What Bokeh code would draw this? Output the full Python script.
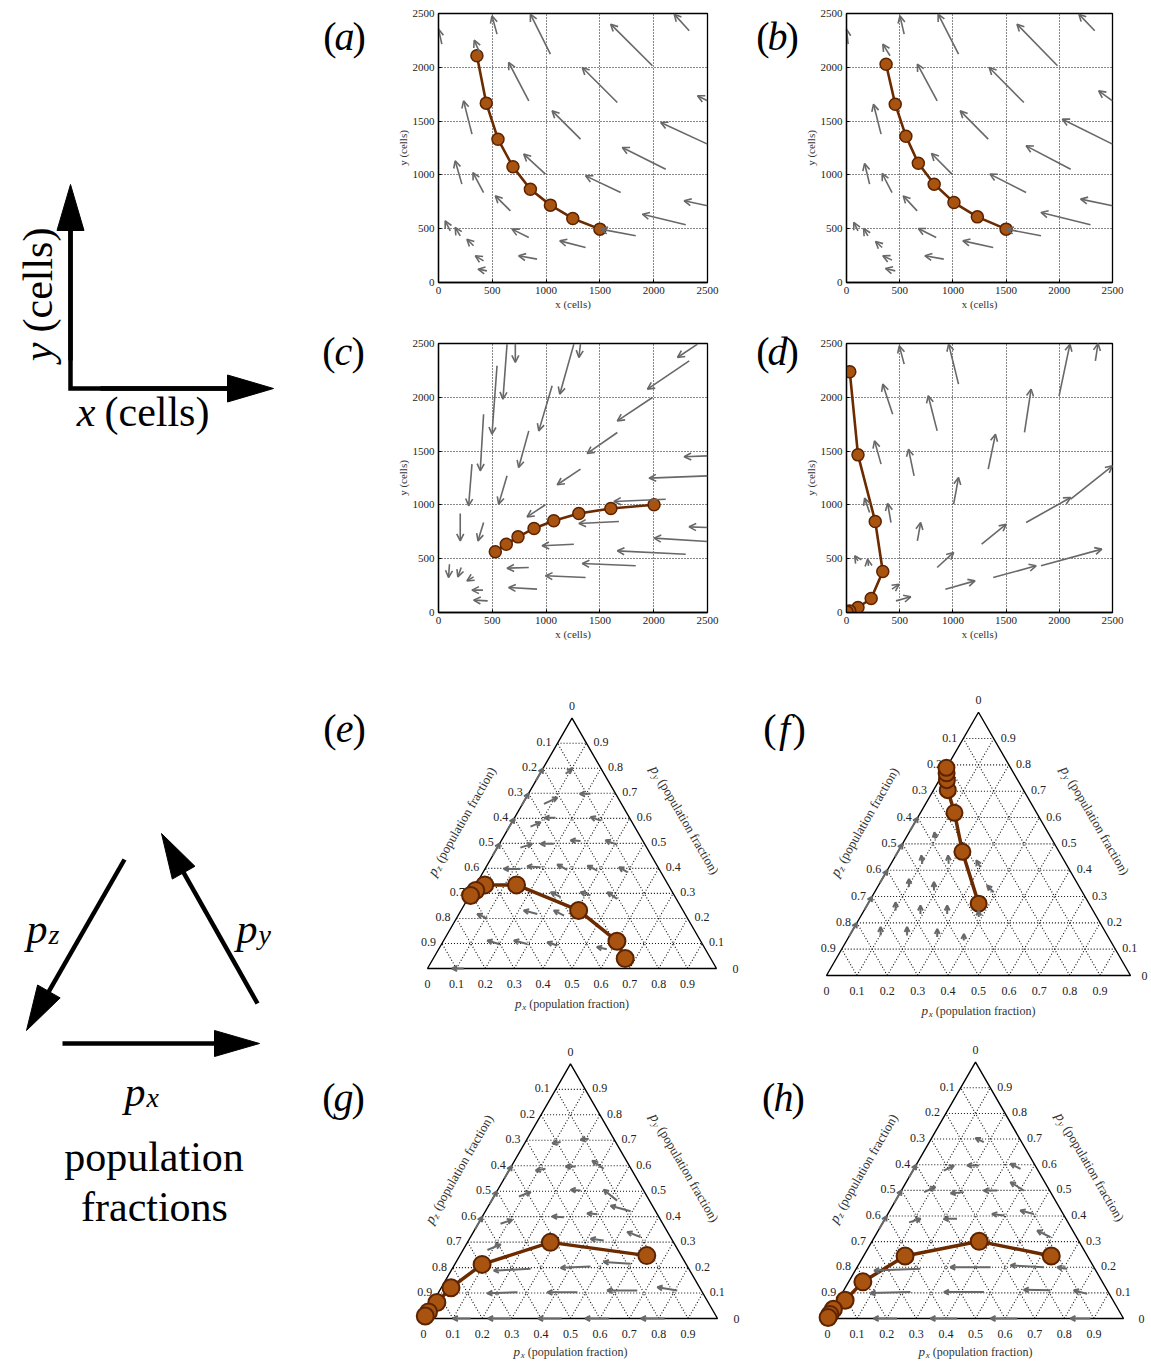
import numpy as np
from bokeh.plotting import figure
from bokeh.models import Range1d, FixedTicker, Arrow, OpenHead, ColumnDataSource
from bokeh.layouts import row, column
from bokeh.embed import file_html
from bokeh.resources import INLINE
from bokeh.core.properties import value

SERIF = "Liberation Serif"
LINE_C = "#6b2a00"
FILL_C = "#a8530f"
EDGE_C = "#5c2300"
Q_C = "#686868"

# ---------------- cartesian panels (cells) ----------------
cells_ticks = [0, 500, 1000, 1500, 2000, 2500]

a_x = [357, 444, 553, 692, 854, 1040, 1248, 1500]
a_y = [2107, 1667, 1332, 1075, 867, 719, 595, 496]
a_qx0 = [31, 544, 1040, 2330, 1988, 388, 839, 1662, 2500, 311, 1320, 2500, 2112, 994, 217, 419, 1693, 2500, 2298, 668, 839, 1833, 109, 202, 326, 1367, 419, 916, 450]
a_qy0 = [2215, 2308, 2122, 2339, 2014, 2122, 1688, 1673, 1690, 1379, 1332, 1286, 1053, 1007, 914, 836, 836, 713, 536, 666, 418, 434, 480, 434, 341, 325, 201, 217, 108]
a_qx1 = [0, 497, 854, 2190, 1600, 332, 652, 1336, 2407, 233, 1056, 2065, 1708, 792, 155, 320, 1367, 2283, 1895, 528, 683, 1506, 62, 155, 264, 1127, 342, 745, 367]
a_qy1 = [2355, 2478, 2494, 2494, 2401, 2252, 2045, 1998, 1735, 1688, 1595, 1487, 1255, 1193, 1131, 1022, 991, 759, 635, 805, 496, 496, 573, 511, 403, 387, 248, 248, 124]

b_x = [372, 458, 558, 675, 824, 1010, 1230, 1500]
b_y = [2029, 1657, 1360, 1109, 914, 743, 610, 496]
b_qx0 = [15, 542, 1053, 2333, 1983, 409, 852, 1667, 2500, 325, 1332, 2500, 2107, 991, 217, 428, 1688, 2500, 2293, 664, 843, 1828, 108, 201, 335, 1379, 428, 914, 458]
b_qy0 = [2215, 2308, 2122, 2339, 2014, 2107, 1688, 1673, 1688, 1379, 1332, 1286, 1053, 1007, 914, 836, 836, 713, 536, 666, 418, 434, 480, 434, 325, 325, 208, 217, 108]
b_qx1 = [0, 502, 861, 2184, 1602, 341, 666, 1341, 2370, 254, 1069, 2029, 1688, 799, 170, 335, 1348, 2200, 1828, 533, 675, 1503, 68, 161, 273, 1094, 341, 737, 366]
b_qy1 = [2355, 2478, 2494, 2494, 2401, 2215, 2029, 1998, 1781, 1657, 1595, 1518, 1270, 1199, 1106, 1013, 1007, 775, 651, 805, 502, 496, 558, 502, 381, 387, 248, 248, 130]

c_x = [528, 630, 739, 888, 1071, 1304, 1602, 2003]
c_y = [564, 635, 703, 781, 852, 920, 967, 1001]
c_qx0 = [714, 637, 1258, 1320, 2407, 2330, 544, 1056, 1988, 419, 839, 1662, 2500, 311, 1320, 2500, 637, 994, 2112, 202, 419, 1677, 2500, 1258, 2500, 2298, 102, 211, 326, 839, 1833, 1367, 413, 916, 457]
c_qy0 = [2500, 2494, 2494, 2500, 2494, 2339, 2293, 2107, 1998, 1843, 1688, 1673, 1456, 1379, 1332, 1270, 1270, 1001, 1053, 920, 836, 846, 790, 635, 660, 542, 449, 418, 331, 418, 434, 325, 208, 217, 108]
c_qx1 = [714, 599, 1127, 1305, 2221, 1942, 497, 932, 1662, 388, 745, 1382, 2283, 280, 1103, 1957, 559, 823, 1630, 202, 367, 1305, 2329, 963, 2003, 1662, 93, 180, 264, 637, 1336, 994, 311, 652, 326]
c_qy1 = [2324, 1983, 2029, 2370, 2370, 2076, 1657, 1688, 1781, 1317, 1347, 1478, 1447, 992, 1187, 1249, 1007, 889, 1032, 666, 666, 827, 796, 620, 691, 573, 325, 331, 294, 412, 455, 341, 208, 232, 115]

d_x = [31, 108, 270, 341, 232, 108, 31, 5]
d_y = [2237, 1465, 846, 381, 130, 46, 15, 5]
d_qx0 = [542, 1053, 2339, 1998, 434, 852, 1673, 1332, 325, 635, 1007, 217, 418, 666, 1688, 1270, 2107, 852, 1379, 1828, 929, 465, 428, 108, 207]
d_qy0 = [2308, 2122, 2339, 2014, 1843, 1688, 1673, 1332, 1379, 1270, 1007, 929, 836, 666, 836, 635, 1053, 418, 325, 434, 217, 108, 217, 480, 434]
d_qx1 = [496, 960, 2364, 2100, 341, 768, 1735, 1400, 263, 583, 1053, 170, 387, 697, 2107, 1502, 2500, 1007, 1782, 2400, 1208, 604, 496, 77, 198]
d_qy1 = [2478, 2494, 2500, 2494, 2122, 2014, 2076, 1657, 1595, 1518, 1255, 1063, 1013, 836, 1069, 821, 1363, 558, 434, 589, 294, 146, 263, 527, 496]

# ---------------- ternary panels (population fractions) ----------------
tern_vals = [0.0, 0.1, 0.2, 0.3, 0.4, 0.5, 0.6, 0.7, 0.8, 0.9]
tern_labels = ["0", "0.1", "0.2", "0.3", "0.4", "0.5", "0.6", "0.7", "0.8", "0.9"]

e_px = [0.664, 0.601, 0.407, 0.141, 0.031, 0.011, 0.003]
e_py = [0.040, 0.109, 0.232, 0.334, 0.334, 0.312, 0.292]
e_qpx0 = [0.089, 0.074, 0.215, 0.073, 0.142, 0.304, 0.080, 0.188, 0.275, 0.408, 0.123, 0.189, 0.286, 0.392, 0.499, 0.318, 0.418, 0.517, 0.107, 0.271, 0.367, 0.198, 0.296, 0.403, 0.0, 0.0, 0.0, 0.0, 0.582, 0.125]
e_qpy0 = [0.778, 0.658, 0.698, 0.567, 0.602, 0.591, 0.483, 0.498, 0.509, 0.495, 0.398, 0.405, 0.394, 0.391, 0.385, 0.285, 0.292, 0.278, 0.199, 0.218, 0.211, 0.098, 0.098, 0.092, 0.45, 0.55, 0.65, 0.75, 0.077, 0.0]
e_qpx1 = [0.102, 0.108, 0.178, 0.099, 0.104, 0.262, 0.113, 0.142, 0.239, 0.360, 0.065, 0.141, 0.241, 0.348, 0.460, 0.274, 0.377, 0.470, 0.063, 0.217, 0.321, 0.151, 0.243, 0.362, 0.0, 0.0, 0.0, 0.0, 0.543, 0.085]
e_qpy1 = [0.798, 0.683, 0.698, 0.584, 0.602, 0.605, 0.498, 0.498, 0.512, 0.512, 0.398, 0.408, 0.416, 0.411, 0.405, 0.305, 0.305, 0.305, 0.218, 0.232, 0.232, 0.112, 0.112, 0.105, 0.50, 0.60, 0.70, 0.80, 0.086, 0.0]

f_px = [0.364, 0.212, 0.112, 0.047, 0.025, 0.011, 0.000]
f_py = [0.273, 0.470, 0.618, 0.704, 0.742, 0.768, 0.789]
f_qpx0 = [0.098, 0.103, 0.190, 0.103, 0.192, 0.104, 0.192, 0.280, 0.102, 0.189, 0.291, 0.385, 0.301, 0.392, 0.390, 0.0, 0.0, 0.0, 0.0, 0.0]
f_qpy0 = [0.520, 0.424, 0.424, 0.336, 0.323, 0.247, 0.234, 0.234, 0.152, 0.152, 0.146, 0.133, 0.411, 0.316, 0.222, 0.15, 0.25, 0.35, 0.45, 0.55]
f_qpx1 = [0.083, 0.084, 0.172, 0.088, 0.176, 0.088, 0.176, 0.264, 0.086, 0.173, 0.276, 0.373, 0.274, 0.357, 0.377, 0.0, 0.0, 0.0, 0.0, 0.0]
f_qpy1 = [0.544, 0.456, 0.456, 0.367, 0.355, 0.278, 0.266, 0.266, 0.184, 0.184, 0.177, 0.158, 0.437, 0.342, 0.247, 0.20, 0.30, 0.40, 0.50, 0.60]

g_px = [0.636, 0.282, 0.093, 0.033, 0.014, 0.004, 0.001]
g_py = [0.247, 0.299, 0.2125, 0.121, 0.063, 0.026, 0.010]
g_qpx0 = [0.120, 0.209, 0.121, 0.219, 0.319, 0.085, 0.283, 0.427, 0.076, 0.278, 0.387, 0.494, 0.578, 0.083, 0.460, 0.267, 0.466, 0.597, 0.268, 0.472, 0.672, 0.808, 0.16, 0.30, 0.47, 0.63, 0.82, 0.0, 0.0, 0.0]
g_qpy0 = [0.693, 0.706, 0.588, 0.597, 0.588, 0.479, 0.503, 0.463, 0.372, 0.398, 0.409, 0.421, 0.320, 0.269, 0.306, 0.195, 0.204, 0.215, 0.103, 0.103, 0.110, 0.110, 0.0, 0.0, 0.0, 0.0, 0.0, 0.35, 0.45, 0.55]
g_qpx1 = [0.094, 0.183, 0.091, 0.185, 0.264, 0.116, 0.248, 0.360, 0.108, 0.237, 0.350, 0.415, 0.523, 0.117, 0.412, 0.145, 0.367, 0.502, 0.168, 0.370, 0.570, 0.734, 0.10, 0.22, 0.39, 0.55, 0.74, 0.0, 0.0, 0.0]
g_qpy1 = [0.688, 0.702, 0.581, 0.597, 0.620, 0.497, 0.505, 0.506, 0.388, 0.401, 0.413, 0.443, 0.340, 0.291, 0.313, 0.188, 0.199, 0.222, 0.099, 0.103, 0.110, 0.123, 0.0, 0.0, 0.0, 0.0, 0.0, 0.40, 0.50, 0.60]

h_px = [0.634, 0.362, 0.140, 0.048, 0.024, 0.002, 0.000, 0.000]
h_py = [0.244, 0.301, 0.244, 0.143, 0.071, 0.036, 0.016, 0.004]
h_qpx0 = [0.184, 0.105, 0.213, 0.360, 0.080, 0.214, 0.324, 0.414, 0.088, 0.243, 0.395, 0.493, 0.595, 0.217, 0.451, 0.631, 0.713, 0.229, 0.477, 0.698, 0.829, 0.235, 0.438, 0.641, 0.888, 0.0, 0.0, 0.0]
h_qpy0 = [0.688, 0.577, 0.597, 0.584, 0.493, 0.493, 0.499, 0.499, 0.375, 0.389, 0.402, 0.408, 0.317, 0.194, 0.200, 0.200, 0.194, 0.103, 0.103, 0.110, 0.096, 0.0, 0.0, 0.0, 0.0, 0.35, 0.45, 0.55]
h_qpx1 = [0.148, 0.129, 0.173, 0.316, 0.108, 0.172, 0.278, 0.352, 0.120, 0.198, 0.352, 0.441, 0.537, 0.064, 0.315, 0.515, 0.676, 0.096, 0.342, 0.607, 0.777, 0.156, 0.348, 0.551, 0.821, 0.0, 0.0, 0.0]
h_qpy1 = [0.704, 0.597, 0.597, 0.604, 0.513, 0.488, 0.499, 0.532, 0.389, 0.389, 0.408, 0.421, 0.343, 0.187, 0.200, 0.207, 0.200, 0.099, 0.103, 0.112, 0.110, 0.0, 0.0, 0.0, 0.0, 0.40, 0.50, 0.60]

R3 = np.sqrt(3) / 2


def txy(px, py):
    px = np.asarray(px, dtype=float)
    py = np.asarray(py, dtype=float)
    return px + py / 2.0, py * R3


def add_letter_label(p, cx, cy, letter, off):
    pieces = [("(", cx - off, "right", "normal"), (letter, cx, "center", "italic"),
              (")", cx + off, "left", "normal")]
    for t, x, al, st in pieces:
        p.text(x=[x], y=[cy], text=[t], text_font=value(SERIF), text_font_size="40px",
               text_font_style=st, text_align=al, text_baseline="middle", text_color="black")


def cart_panel(w, h, bl, br, bt, bb, tx, ty, qx0, qy0, qx1, qy1):
    p = figure(width=w, height=h, x_range=Range1d(0, 2500), y_range=Range1d(0, 2500),
               output_backend="svg", toolbar_location=None,
               min_border_left=bl, min_border_right=br, min_border_top=bt, min_border_bottom=bb,
               background_fill_color="white", border_fill_color="white")
    p.xaxis.ticker = FixedTicker(ticks=cells_ticks)
    p.yaxis.ticker = FixedTicker(ticks=cells_ticks)
    p.xaxis.axis_label = "x (cells)"
    p.yaxis.axis_label = "y (cells)"
    p.axis.major_label_text_font = SERIF
    p.axis.major_label_text_font_size = "11px"
    p.axis.major_label_text_color = "#222222"
    p.axis.axis_label_text_font = SERIF
    p.axis.axis_label_text_font_size = "11px"
    p.axis.axis_label_text_font_style = "normal"
    p.axis.axis_label_text_color = "#333333"
    p.axis.axis_label_standoff = 1
    p.axis.major_label_standoff = 4
    p.axis.major_tick_in = 3
    p.axis.major_tick_out = 0
    p.axis.minor_tick_line_color = None
    p.axis.axis_line_color = "black"
    p.axis.axis_line_width = 1.3
    p.grid.grid_line_color = "#111111"
    p.grid.grid_line_dash = "1 2"
    p.grid.grid_line_alpha = 1.0
    p.grid.grid_line_width = 1.1
    p.outline_line_color = "black"
    p.outline_line_width = 1.3
    p.outline_line_alpha = 1.0
    src = ColumnDataSource(dict(x0=qx0, y0=qy0, x1=qx1, y1=qy1))
    p.add_layout(Arrow(end=OpenHead(size=7, line_color=Q_C, line_width=1.6),
                       x_start="x0", y_start="y0", x_end="x1", y_end="y1", source=src,
                       line_color=Q_C, line_width=1.6, level="glyph"))
    p.line(tx, ty, line_color=LINE_C, line_width=2.6)
    p.scatter(tx, ty, size=12, fill_color=FILL_C, line_color=EDGE_C, line_width=1.5)
    return p


def tern_title(p, u, cx, cy, ang, sub, fs):
    d = np.array([np.cos(ang), np.sin(ang)])
    n = np.array([np.sin(ang), -np.cos(ang)])
    sub_off = 0.59 * fs
    rest_off = 1.18 * fs
    tot = rest_off + 8.3 * fs
    start = np.array([cx, cy]) - d * (tot / 2.0) * u
    pp = start
    ps = start + d * sub_off * u + n * 0.27 * fs * u
    pr = start + d * rest_off * u
    common = dict(angle=ang, text_font=value(SERIF), text_align="left", text_baseline="middle",
                  text_color="#333333")
    p.text(x=[pp[0]], y=[pp[1]], text=["p"], text_font_size="%.1fpx" % (fs * 1.1),
           text_font_style="italic", **common)
    p.text(x=[ps[0]], y=[ps[1]], text=[sub], text_font_size="%.1fpx" % (fs * 0.75),
           text_font_style="italic", **common)
    p.text(x=[pr[0]], y=[pr[1]], text=["(population fraction)"], text_font_size="%.1fpx" % fs, **common)


def tern_panel(W, H, ox, oy, s, tpx, tpy, qpx0, qpy0, qpx1, qpy1, letter, lab, title_gap, zero_gap, msize):
    u = 1.0 / s
    p = figure(width=W, height=H, x_range=Range1d(-ox * u, (W - ox) * u),
               y_range=Range1d(-(H - oy) * u, oy * u), x_axis_type=None, y_axis_type=None,
               output_backend="svg", toolbar_location=None, min_border=0,
               outline_line_color=None, background_fill_color="white", border_fill_color="white")
    xs, ys = [], []
    for v in tern_vals[1:]:
        for pa, pb in [((0, v), (1 - v, v)), ((v, 0), (v, 1 - v)), ((1 - v, 0), (0, 1 - v))]:
            X, Y = txy([pa[0], pb[0]], [pa[1], pb[1]])
            xs.append(list(X))
            ys.append(list(Y))
    p.multi_line(xs, ys, line_color="#111111", line_dash="1 2", line_width=1.1, line_alpha=1.0)
    TX, TY = txy([0, 1, 0], [0, 0, 1])
    p.patch(list(TX), list(TY), fill_color=None, line_color="black", line_width=1.4)

    tick_common = dict(text_font=value(SERIF), text_font_size="12px", text_baseline="middle",
                       text_color="#222222")
    bx, by = txy(tern_vals, [0] * len(tern_vals))
    p.text(x=list(bx), y=list(by - 15 * u), text=tern_labels, text_align="center", **tick_common)
    lv = np.array(tern_vals[1:])
    lx, ly = txy([0] * len(lv), 1 - lv)
    p.text(x=list(lx - 6 * u), y=list(ly + 1 * u), text=tern_labels[1:], text_align="right", **tick_common)
    tx0, ty0 = txy([0], [1])
    p.text(x=list(tx0), y=list(ty0 + 12 * u), text=[tern_labels[0]], text_align="center", **tick_common)
    rx, ry = txy(1 - lv, lv)
    p.text(x=list(rx + 7 * u), y=list(ry + 1 * u), text=tern_labels[1:], text_align="left", **tick_common)
    zx, zy = txy([1], [0])
    p.text(x=list(zx + zero_gap * u), y=list(zy), text=[tern_labels[0]], text_align="left", **tick_common)

    tern_title(p, u, 0.5, -title_gap * u, 0.0, "x", 12.0)
    tern_title(p, u, 0.25 - 44 * u * 0.866, R3 / 2 + 44 * u * 0.5, np.pi / 3, "z", 13.0)
    tern_title(p, u, 0.75 + 47 * u * 0.866, R3 / 2 + 47 * u * 0.5, -np.pi / 3, "y", 13.0)

    X0, Y0 = txy(qpx0, qpy0)
    X1, Y1 = txy(qpx1, qpy1)
    src = ColumnDataSource(dict(x0=X0, y0=Y0, x1=X1, y1=Y1))
    p.add_layout(Arrow(end=OpenHead(size=5, line_color=Q_C, line_width=2),
                       x_start="x0", y_start="y0", x_end="x1", y_end="y1", source=src,
                       line_color=Q_C, line_width=2, level="glyph"))
    PX, PY = txy(tpx, tpy)
    p.line(list(PX), list(PY), line_color=LINE_C, line_width=3.5)
    p.scatter(list(PX), list(PY), size=msize, fill_color=FILL_C, line_color=EDGE_C, line_width=2)
    add_letter_label(p, lab[0], lab[1], letter, 8 * u)
    return p


def blank(W, H):
    return figure(width=W, height=H, x_range=Range1d(0, W), y_range=Range1d(0, H),
                  x_axis_type=None, y_axis_type=None, output_backend="svg",
                  toolbar_location=None, min_border=0, outline_line_color=None,
                  background_fill_color="white", border_fill_color="white")


def legend_arrow(p, tail, tip, L, Wd, lw):
    t = np.array(tail, float)
    h = np.array(tip, float)
    d = (h - t) / np.linalg.norm(h - t)
    n = np.array([-d[1], d[0]])
    base = h - L * d
    p.line([t[0], base[0] + d[0] * 2], [t[1], base[1] + d[1] * 2], line_color="black", line_width=lw)
    pts = [h, base + n * Wd / 2, base - n * Wd / 2]
    p.patch([q[0] for q in pts], [q[1] for q in pts], fill_color="black", line_color="black", line_width=1)


# ---------------- top half ----------------
TOP_H = 660
fa = cart_panel(330, 322, 45, 16, 13, 40, a_x, a_y, a_qx0, a_qy0, a_qx1, a_qy1)
fb = cart_panel(341, 322, 42, 30, 13, 40, b_x, b_y, b_qx0, b_qy0, b_qx1, b_qy1)
fc = cart_panel(330, 338, 45, 16, 21, 48, c_x, c_y, c_qx0, c_qy0, c_qx1, c_qy1)
fd = cart_panel(341, 338, 42, 30, 21, 48, d_x, d_y, d_qx0, d_qy0, d_qx1, d_qy1)

lxy = blank(393, TOP_H)
lxy.line([70, 70, 228], [431, 272, 272], line_color="black", line_width=4.5, line_join="miter")
legend_arrow(lxy, (70, 300), (70, 476), 46, 27, 4.5)
legend_arrow(lxy, (100, 272), (273, 272), 46, 27, 4.5)
lxy.text(x=[37.5], y=[318], text=["y"], angle=np.pi / 2, text_font=value(SERIF), text_font_size="42px",
         text_font_style="italic", text_align="right", text_baseline="middle", text_color="black")
lxy.text(x=[37.5], y=[328], text=["(cells)"], angle=np.pi / 2, text_font=value(SERIF), text_font_size="42px",
         text_align="left", text_baseline="middle", text_color="black")
lxy.text(x=[95], y=[249], text=["x"], text_font=value(SERIF), text_font_size="42px",
         text_font_style="italic", text_align="right", text_baseline="middle", text_color="black")
lxy.text(x=[104], y=[249], text=["(cells)"], text_font=value(SERIF), text_font_size="42px",
         text_align="left", text_baseline="middle", text_color="black")
add_letter_label(lxy, 344, TOP_H - 36, "a", 8)
add_letter_label(lxy, 343, TOP_H - 351, "c", 8)

lbd = blank(78, TOP_H)
add_letter_label(lbd, 54, TOP_H - 36, "b", 8)
add_letter_label(lbd, 54, TOP_H - 351, "d", 8)

top = row(lxy, column(fa, fc), lbd, column(fb, fd))

# ---------------- bottom half ----------------
fe = tern_panel(440, 360, 127, 308, 289, e_px, e_py, e_qpx0, e_qpy0, e_qpx1, e_qpy1, "e",
                (-0.287, 0.830), 35, 16, 17)
ff = tern_panel(408, 360, 86, 315, 304, f_px, f_py, f_qpx0, f_qpy0, f_qpx1, f_qpy1, "f",
                (-0.138, 0.8125), 35, 11, 16)
fg = tern_panel(440, 340, 123, 298, 294, g_px, g_py, g_qpx0, g_qpy0, g_qpx1, g_qpy1, "g",
                (-0.272, 0.752), 33, 16, 17)
fh = tern_panel(408, 340, 87, 298, 296, h_px, h_py, h_qpx0, h_qpy0, h_qpx1, h_qpy1, "h",
                (-0.149, 0.747), 33, 15, 17)

BOT_H = 700
lpop = blank(300, BOT_H)
Y0 = 1363 - 3
legend_arrow(lpop, (124, Y0 - 859), (26, Y0 - 1030), 45, 26, 4.5)
legend_arrow(lpop, (257, Y0 - 1003), (161, Y0 - 833), 45, 26, 4.5)
legend_arrow(lpop, (62, Y0 - 1043), (259, Y0 - 1043), 45, 26, 4.5)
sub_specs = [(47, Y0 - 928, "z"), (257, Y0 - 928, "y"), (145, Y0 - 1091, "x")]
for jx, by_, sname in sub_specs:
    lpop.text(x=[jx], y=[by_], text=["p"], text_font=value(SERIF), text_font_size="42px",
              text_font_style="italic", text_align="right", text_baseline="alphabetic", text_color="black")
    lpop.text(x=[jx + 1], y=[by_ - 6], text=[sname], text_font=value(SERIF), text_font_size="28px",
              text_font_style="italic", text_align="left", text_baseline="alphabetic", text_color="black")
lpop.text(x=[153.5, 154], y=[Y0 - 1156, Y0 - 1206], text=["population", "fractions"], text_font=value(SERIF),
          text_font_size="42px", text_align="center", text_baseline="middle", text_color="black")

bottom = row(lpop, column(row(fe, ff), row(fg, fh)))

page = column(top, bottom)

with open("out.html", "w") as f:
    f.write(file_html(page, INLINE))
